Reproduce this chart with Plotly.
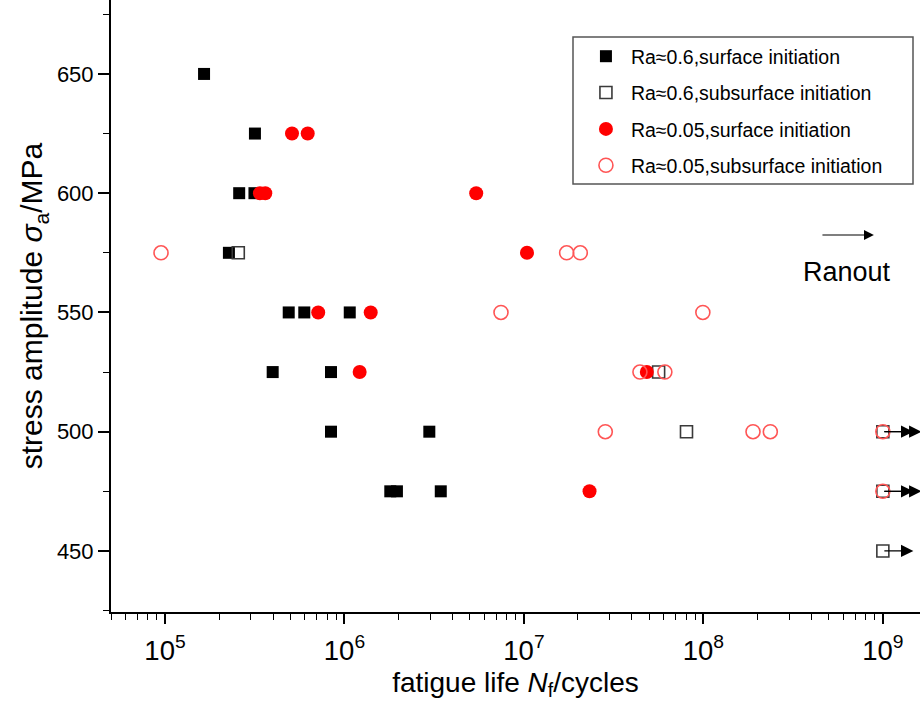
import numpy as np
import plotly.graph_objects as go

# ---- data (fatigue life N_f in cycles, stress amplitude in MPa) ----
black_filled_N = [1.65e5, 3.17e5, 2.59e5, 3.15e5, 2.27e5, 4.89e5, 5.97e5, 1.07e6,
                  3.98e5, 8.41e5, 8.41e5, 2.97e6, 1.80e6, 1.96e6, 3.44e6]
black_filled_S = [650, 625, 600, 600, 575, 550, 550, 550, 525, 525, 500, 500, 475, 475, 475]

black_open_N = [2.56e5, 5.63e7, 8.05e7, 1e9, 1e9, 1e9]
black_open_S = [575, 525, 500, 500, 475, 450]

red_filled_N = [5.10e5, 6.24e5, 3.38e5, 3.62e5, 5.42e6, 1.04e7, 7.14e5, 1.40e6,
                1.215e6, 4.84e7, 2.32e7]
red_filled_S = [625, 625, 600, 600, 600, 575, 550, 550, 525, 525, 475]

red_open_N = [9.5e4, 1.73e7, 2.06e7, 7.45e6, 9.93e7, 4.43e7, 6.10e7, 2.84e7,
              1.89e8, 2.36e8, 1e9, 1e9]
red_open_S = [575, 575, 575, 550, 550, 525, 525, 500, 500, 500, 500, 475]

series_names = ["Ra≈0.6,surface initiation", "Ra≈0.6,subsurface initiation",
                "Ra≈0.05,surface initiation", "Ra≈0.05,subsurface initiation"]
runout_limit = 1e9

FONT = "Liberation Sans, Arial, Helvetica, sans-serif"

fig = go.Figure()
fig.add_trace(go.Scatter(x=black_filled_N, y=black_filled_S, mode="markers",
                         name=series_names[0], legendgroup="a",
                         marker=dict(symbol="square", size=12, color="black")))
fig.add_trace(go.Scatter(x=black_open_N, y=black_open_S, mode="markers",
                         name=series_names[1], legendgroup="b",
                         marker=dict(symbol="square-open", size=12, color="#3a3a3a",
                                     line=dict(width=1.6))))
fig.add_trace(go.Scatter(x=red_filled_N, y=red_filled_S, mode="markers",
                         name=series_names[2], legendgroup="c",
                         marker=dict(symbol="circle", size=14, color="#ff0000")))
fig.add_trace(go.Scatter(x=red_open_N, y=red_open_S, mode="markers",
                         name=series_names[3], legendgroup="d",
                         marker=dict(symbol="circle-open", size=14, color="#ff5555",
                                     line=dict(width=1.6))))

annotations = []
# runout arrows derived from runout data points
for Ns, Ss, length in ((black_open_N, black_open_S, 0.17), (red_open_N, red_open_S, 0.215)):
    for n, s in zip(Ns, Ss):
        if n >= runout_limit:
            lx = np.log10(n)
            annotations.append(dict(x=lx + length, y=s, ax=lx, ay=s, axref="x", ayref="y",
                                    xref="x", yref="y", text="", showarrow=True,
                                    arrowhead=2, arrowsize=1.9, arrowwidth=1.3,
                                    arrowcolor="black"))
# "Ranout" key arrow and label
annotations.append(dict(x=8.95, y=582.5, ax=8.655, ay=582.5, axref="x", ayref="y",
                        xref="x", yref="y", text="", showarrow=True, arrowhead=2,
                        arrowsize=1.8, arrowwidth=1.1, arrowcolor="black"))
annotations.append(dict(x=8.80, y=567, xref="x", yref="y", text="Ranout", showarrow=False,
                        font=dict(family=FONT, size=27, color="black")))

# legend frame (pixel box 573..913 x 37..184 inside plot area 111..920 x 0..612)
shapes = [dict(type="rect", xref="paper", yref="paper",
               x0=(573 - 111) / 809, x1=(913 - 111) / 809,
               y0=1 - 184 / 612, y1=1 - 37 / 612,
               line=dict(color="#555555", width=1.5), fillcolor="white", layer="below")]

fig.update_layout(
    width=920, height=706,
    margin=dict(l=111, r=0, t=0, b=94),
    paper_bgcolor="white", plot_bgcolor="white",
    font=dict(family=FONT, color="black"),
    showlegend=True,
    legend=dict(x=0.571, y=0.9395, xanchor="left", yanchor="top",
                borderwidth=0, bgcolor="rgba(0,0,0,0)",
                font=dict(family=FONT, size=19.5, color="black"),
                tracegroupgap=8, traceorder="grouped", indentation=8,
                itemwidth=40),
    annotations=annotations,
    shapes=shapes,
)

fig.update_xaxes(
    type="log", range=[np.log10(5e4), 9.207],
    showgrid=False, zeroline=False,
    showline=True, linecolor="black", linewidth=2,
    ticks="outside", ticklen=10, tickwidth=1.5, tickcolor="black",
    dtick=1, exponentformat="power", showexponent="all",
    ticklabelstandoff=4,
    tickfont=dict(family=FONT, size=22, color="black"),
    minor=dict(ticks="outside", ticklen=6, tickwidth=1.2, tickcolor="black",
               dtick="D1", showgrid=False),
    title=dict(text="fatigue life <i>N</i><sub>f</sub>/cycles",
               font=dict(family=FONT, size=28, color="black"), standoff=7),
)
fig.update_yaxes(
    range=[424.4, 681], showgrid=False, zeroline=False,
    showline=True, linecolor="black", linewidth=2,
    tickvals=[450, 500, 550, 600, 650],
    ticks="outside", ticklen=11, tickwidth=1.5, tickcolor="black",
    tickfont=dict(family=FONT, size=22, color="black"),
    minor=dict(ticks="outside", ticklen=6, tickwidth=1.2, tickcolor="black",
               tickvals=[425, 475, 525, 575, 625, 675], showgrid=False),
    title=dict(text="stress amplitude <i>σ</i><sub>a</sub>/MPa",
               font=dict(family=FONT, size=30, color="black"), standoff=5),
)

fig.write_html("out.html")
